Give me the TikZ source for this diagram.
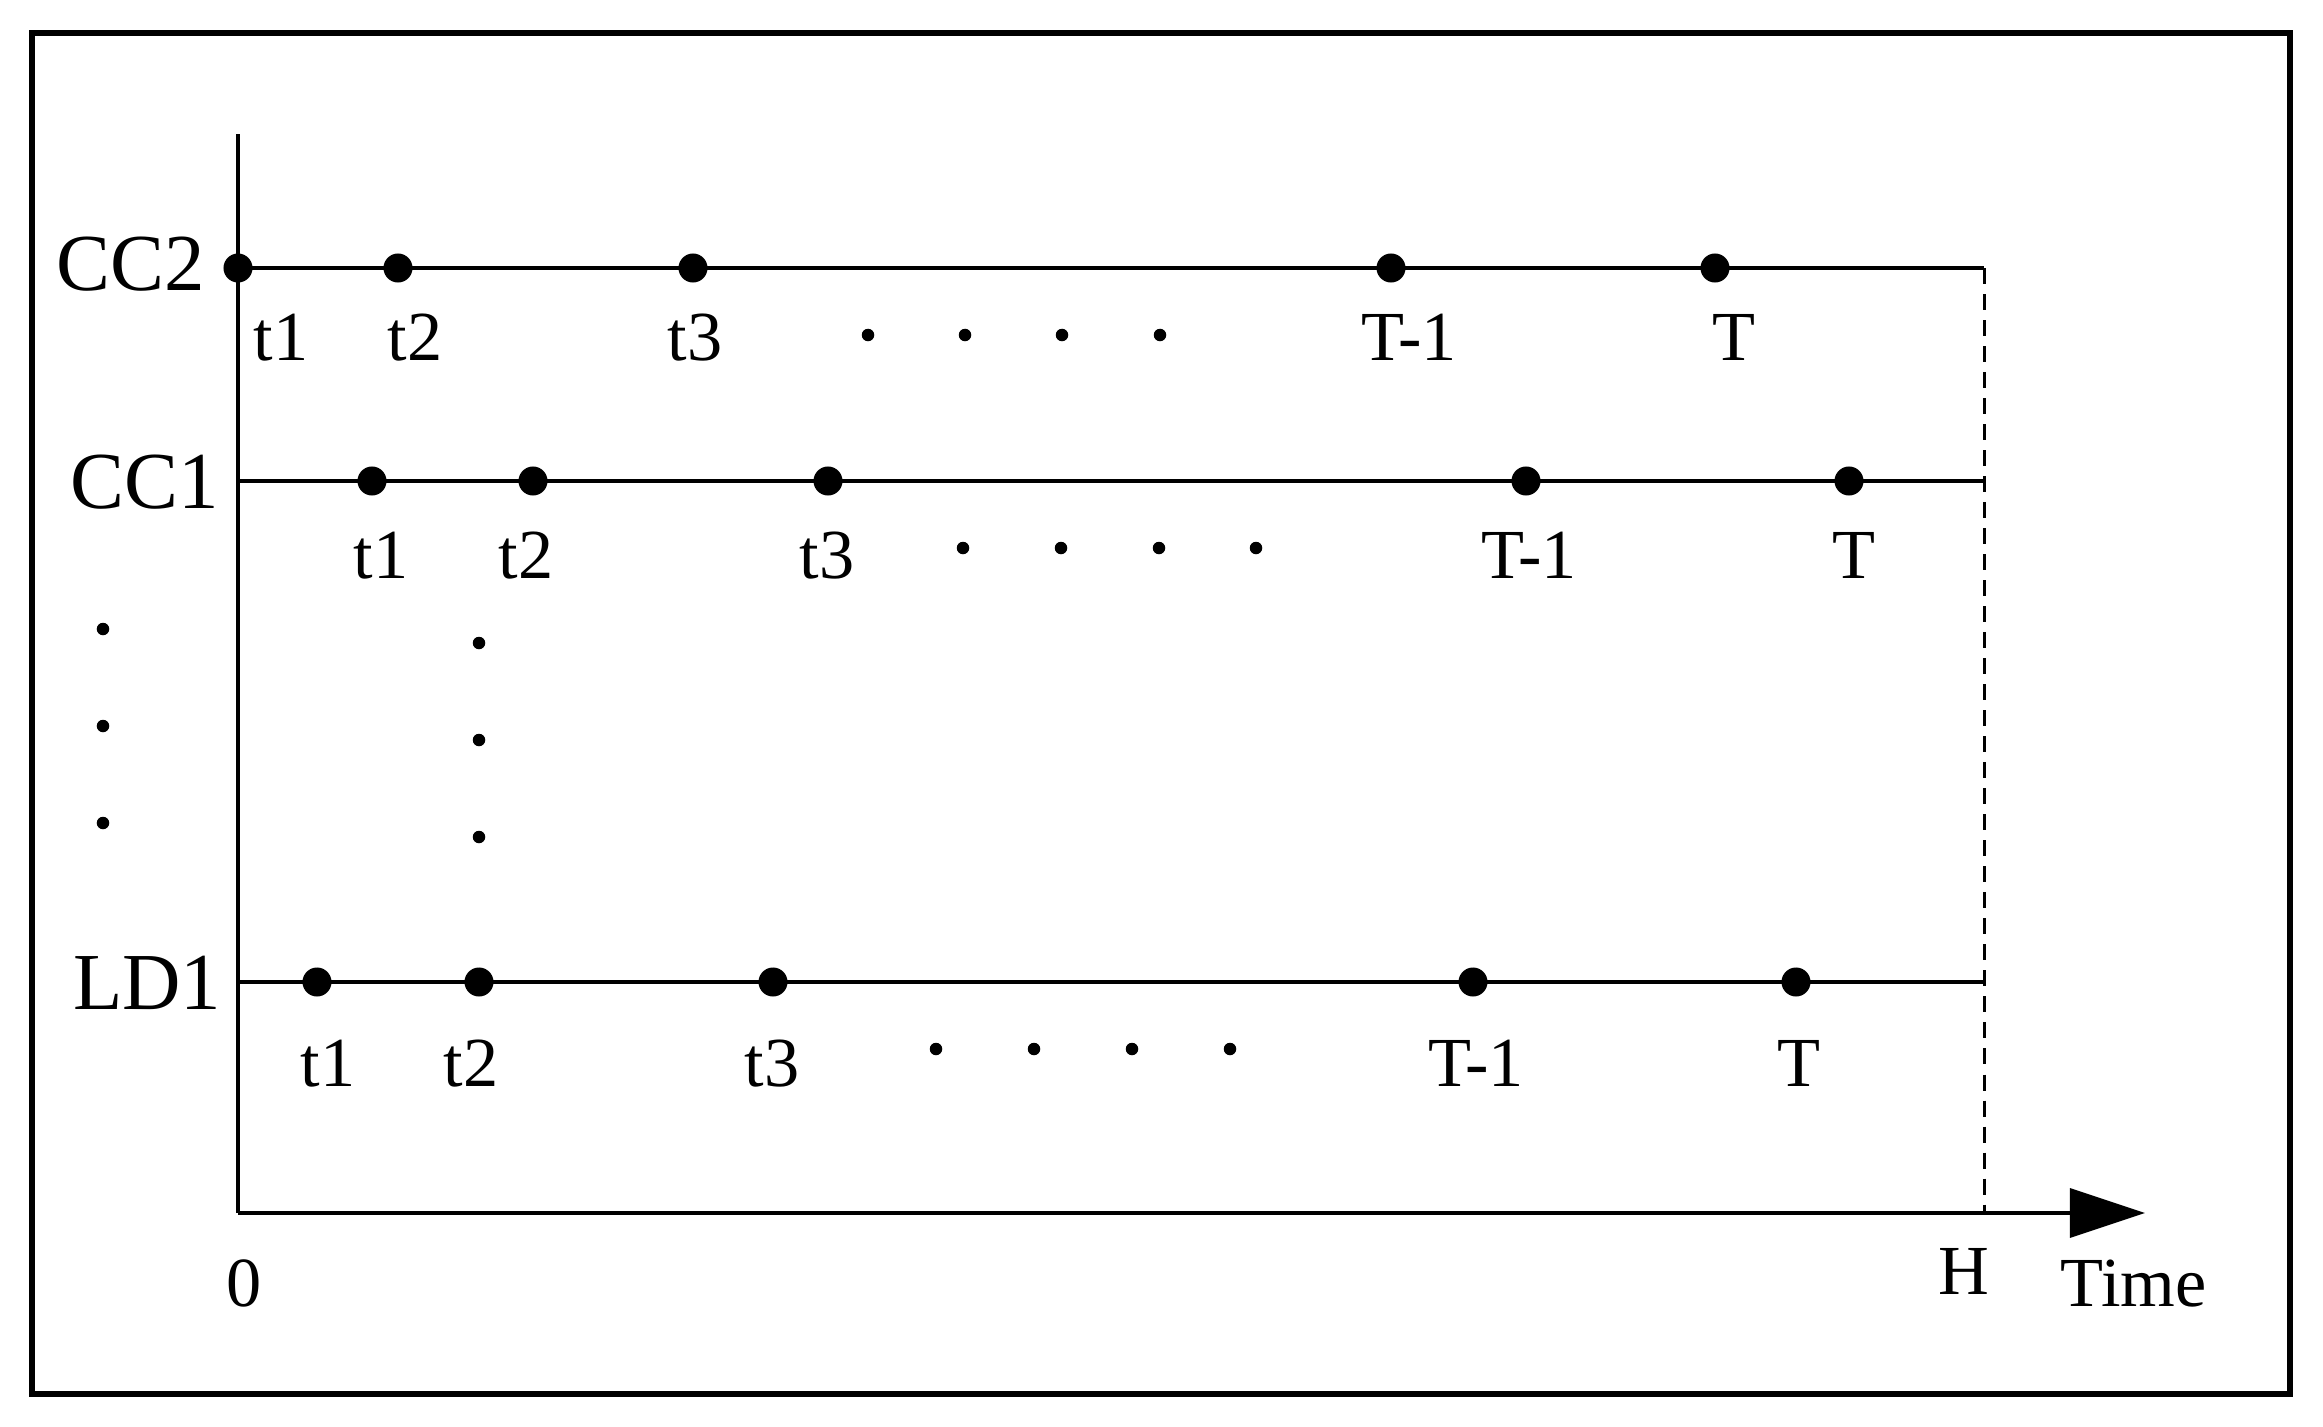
\documentclass[tikz,border=0pt]{standalone}
\usepackage{fontspec}
\setmainfont{Liberation Serif}
\usetikzlibrary{arrows.meta}
\begin{document}
\begin{tikzpicture}[x=0.01cm,y=-0.01cm,
  bigdot/.style={circle,fill=black,draw=none,inner sep=0pt,minimum size=0.29cm},
  smalldot/.style={circle,fill=black,draw=none,inner sep=0pt,minimum size=0.125cm},
  rowlabel/.style={inner sep=0pt,anchor=base east,font=\fontsize{23}{27}\selectfont},
  ticklabel/.style={inner sep=0pt,anchor=base,font=\fontsize{20}{24}\selectfont},
  axisline/.style={line width=0.034cm},
  frameline/.style={line width=0.06cm},
  limitline/.style={line width=0.03cm,dash pattern=on 0.16cm off 0.1cm}]
\useasboundingbox (0,0) rectangle (2323,1427);
% frame
\draw[frameline] (32,33) rectangle (2290,1394);
% axes
\coordinate (o) at (238,1213);
\coordinate (ytop) at (238,134);
\coordinate (xend) at (2145,1213);
\coordinate (hbot) at (1984,1213);
\draw[axisline] (ytop) -- (o);
\draw[axisline,-{Triangle[length=0.75cm,width=0.49cm]}] (o) -- (xend);
% row lines
\coordinate (cc2s) at (238,268);  \coordinate (cc2e) at (1984,268);
\coordinate (cc1s) at (238,481);  \coordinate (cc1e) at (1984,481);
\coordinate (ld1s) at (238,982);  \coordinate (ld1e) at (1984,982);
\draw[axisline] (cc2s) -- (cc2e);
\draw[axisline] (cc1s) -- (cc1e);
\draw[axisline] (ld1s) -- (ld1e);
\draw[limitline] (cc2e) -- (hbot);
% row labels
\node[rowlabel] (lcc2) at (206,290) {CC2};
\node[rowlabel] (lcc1) at (220,508) {CC1};
\node[rowlabel] (lld1) at (222,1009) {LD1};
% CC2 row
\node[bigdot] (a1) at (238,268) {};
\node[bigdot] (a2) at (398,268) {};
\node[bigdot] (a3) at (693,268) {};
\node[bigdot] (a4) at (1391,268) {};
\node[bigdot] (a5) at (1715,268) {};
\node[ticklabel] (ta1) at (281,360) {t1};
\node[ticklabel] (ta2) at (415,360) {t2};
\node[ticklabel] (ta3) at (695,360) {t3};
\node[ticklabel] (ta4) at (1409,360) {T-1};
\node[ticklabel] (ta5) at (1734,360) {T};
\node[smalldot] (ea1) at (868,335) {};
\node[smalldot] (ea2) at (965,335) {};
\node[smalldot] (ea3) at (1062,335) {};
\node[smalldot] (ea4) at (1160,335) {};
% CC1 row
\node[bigdot] (b1) at (372,481) {};
\node[bigdot] (b2) at (533,481) {};
\node[bigdot] (b3) at (828,481) {};
\node[bigdot] (b4) at (1526,481) {};
\node[bigdot] (b5) at (1849,481) {};
\node[ticklabel] (tb1) at (381,578) {t1};
\node[ticklabel] (tb2) at (526,578) {t2};
\node[ticklabel] (tb3) at (827,578) {t3};
\node[ticklabel] (tb4) at (1529,578) {T-1};
\node[ticklabel] (tb5) at (1854,578) {T};
\node[smalldot] (eb1) at (963,548) {};
\node[smalldot] (eb2) at (1061,548) {};
\node[smalldot] (eb3) at (1159,548) {};
\node[smalldot] (eb4) at (1256,548) {};
% LD1 row
\node[bigdot] (c1) at (317,982) {};
\node[bigdot] (c2) at (479,982) {};
\node[bigdot] (c3) at (773,982) {};
\node[bigdot] (c4) at (1473,982) {};
\node[bigdot] (c5) at (1796,982) {};
\node[ticklabel] (tc1) at (328,1086) {t1};
\node[ticklabel] (tc2) at (471,1086) {t2};
\node[ticklabel] (tc3) at (772,1086) {t3};
\node[ticklabel] (tc4) at (1476,1086) {T-1};
\node[ticklabel] (tc5) at (1799,1086) {T};
\node[smalldot] (ec1) at (936,1049) {};
\node[smalldot] (ec2) at (1034,1049) {};
\node[smalldot] (ec3) at (1132,1049) {};
\node[smalldot] (ec4) at (1230,1049) {};
% vertical ellipses
\node[smalldot] (vl1) at (103,629) {};
\node[smalldot] (vl2) at (103,726) {};
\node[smalldot] (vl3) at (103,823) {};
\node[smalldot] (vm1) at (479,643) {};
\node[smalldot] (vm2) at (479,740) {};
\node[smalldot] (vm3) at (479,837) {};
% axis labels
\node[ticklabel] (zero) at (244,1306) {0};
\node[ticklabel] (hlab) at (1964,1294) {H};
\node[ticklabel,anchor=base west] (time) at (2060,1306) {Time};
\end{tikzpicture}
\end{document}
